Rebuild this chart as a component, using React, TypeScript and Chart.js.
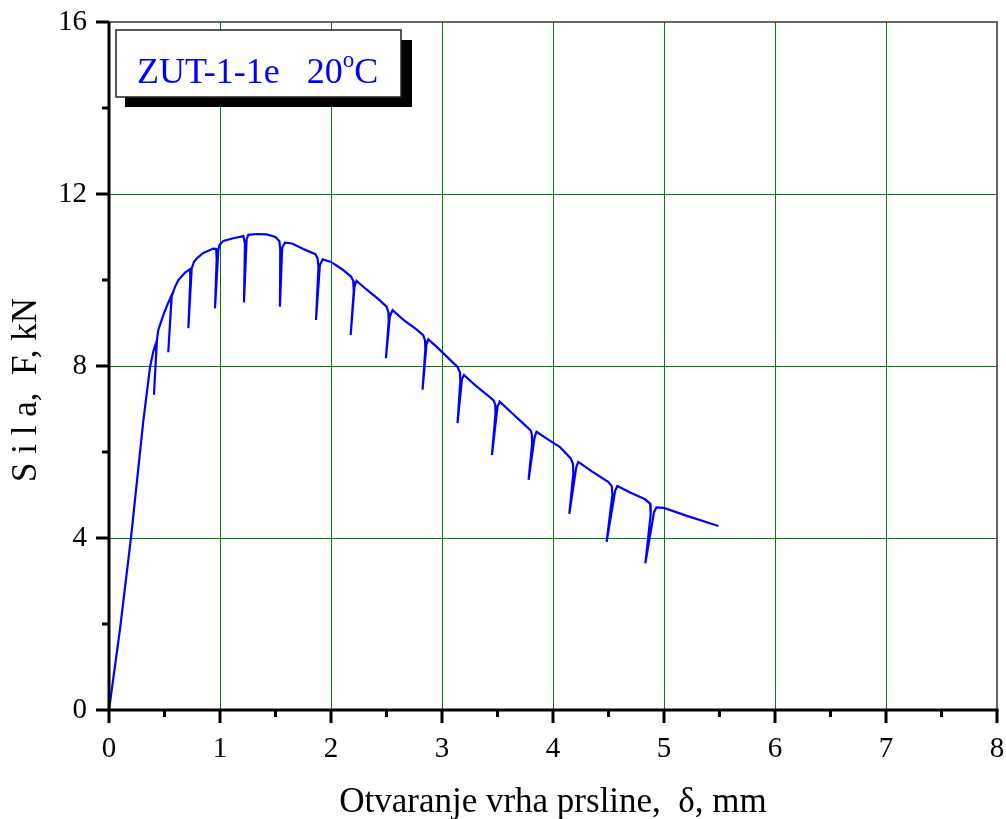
import React, { useEffect, useRef } from "react";
import { Chart, registerables } from "chart.js";

Chart.register(...registerables);

// Crack tip opening displacement, mm
const deltaMm: number[] = [
  0, 0.1, 0.2, 0.31, 0.37, 0.4, 0.423,
  0.425, 0.405, 0.432, 0.444, 0.49, 0.53, 0.556,
  0.56, 0.534, 0.565, 0.595, 0.625, 0.685, 0.73,
  0.733, 0.715, 0.745, 0.765, 0.79, 0.85, 0.94, 0.965,
  0.97, 0.955, 0.985, 0.994, 1.03, 1.12, 1.21,
  1.225, 1.216, 1.24, 1.255, 1.33, 1.42, 1.5, 1.535,
  1.543, 1.54, 1.56, 1.585, 1.65, 1.75, 1.86, 1.88,
  1.887, 1.865, 1.9, 1.925, 2.0, 2.1, 2.18, 2.2,
  2.205, 2.177, 2.212, 2.23, 2.32, 2.43, 2.5, 2.517,
  2.52, 2.495, 2.53, 2.555, 2.65, 2.77, 2.83, 2.847,
  2.85, 2.825, 2.86, 2.877, 2.95, 3.05, 3.14, 3.162,
  3.165, 3.14, 3.18, 3.198, 3.3, 3.42, 3.465, 3.48,
  3.482, 3.45, 3.5, 3.52, 3.62, 3.75, 3.8, 3.81,
  3.812, 3.78, 3.835, 3.852, 3.95, 4.06, 4.16, 4.18,
  4.183, 4.147, 4.21, 4.228, 4.35, 4.5, 4.53,
  4.535, 4.483, 4.56, 4.58, 4.7, 4.83, 4.875,
  4.88, 4.832, 4.91, 4.933, 5.0, 5.2, 5.49,
];

// Force, kN
const forceKN: number[] = [
  0, 1.9, 4.05, 6.74, 7.98, 8.35, 8.53,
  8.3, 7.33, 8.6, 8.84, 9.19, 9.45, 9.6,
  9.45, 8.32, 9.62, 9.84, 10.0, 10.17, 10.25,
  10.05, 8.88, 10.27, 10.42, 10.5, 10.63, 10.73, 10.72,
  10.5, 9.34, 10.7, 10.81, 10.91, 10.97, 11.02,
  10.85, 9.48, 10.95, 11.05, 11.07, 11.06, 11.0, 10.9,
  10.7, 9.38, 10.75, 10.87, 10.85, 10.72, 10.6, 10.5,
  10.3, 9.07, 10.35, 10.48, 10.42, 10.25, 10.08, 9.98,
  9.75, 8.72, 9.85, 9.98, 9.78, 9.55, 9.38, 9.25,
  9.05, 8.18, 9.15, 9.3, 9.08, 8.85, 8.72, 8.6,
  8.4, 7.45, 8.5, 8.62, 8.45, 8.2, 7.98, 7.85,
  7.65, 6.67, 7.7, 7.79, 7.55, 7.3, 7.2, 7.1,
  6.9, 5.93, 7.05, 7.17, 6.93, 6.62, 6.5, 6.4,
  6.2, 5.35, 6.35, 6.47, 6.3, 6.12, 5.85, 5.72,
  5.5, 4.56, 5.65, 5.77, 5.55, 5.3, 5.2,
  5.0, 3.91, 5.1, 5.21, 5.05, 4.9, 4.8,
  4.55, 3.41, 4.6, 4.71, 4.7, 4.52, 4.28,
];

const xMin = 0;
const xMax = 8;
const xMajorStep = 1;
const xMinorStep = 0.5;
const yMin = 0;
const yMax = 16;
const yMajorStep = 4;
const yMinorStep = 2;

const xTitle = "Otvaranje vrha prsline,  δ, mm";
const yTitle = "S i l a,  F, kN";
const boxMain = "ZUT-1-1e   20";
const boxSup = "o";
const boxTail = "C";

const SERIF = "'Liberation Serif', 'Times New Roman', serif";
const GRID_GREEN = "#008000";
const LINE_BLUE = "#0000ff";

const isMultiple = (v: number, step: number) =>
  Math.abs(v / step - Math.round(v / step)) < 1e-6;

const zeroPadding = (s: any) => {
  s.paddingLeft = 0;
  s.paddingRight = 0;
  s.paddingTop = 0;
  s.paddingBottom = 0;
};

const framePlugin = {
  id: "frame",
  afterDraw(chart: any) {
    const { ctx, chartArea: a, scales } = chart;
    const xs = scales.x;
    const ys = scales.y;
    ctx.save();

    // top & right thin border
    ctx.strokeStyle = "#333333";
    ctx.lineWidth = 1.5;
    ctx.beginPath();
    ctx.moveTo(a.left, a.top);
    ctx.lineTo(a.right, a.top);
    ctx.lineTo(a.right, a.bottom);
    ctx.stroke();

    // main axes
    ctx.strokeStyle = "#000000";
    ctx.lineWidth = 3;
    ctx.beginPath();
    ctx.moveTo(a.left, a.top);
    ctx.lineTo(a.left, a.bottom + 1.5);
    ctx.moveTo(a.left - 1.5, a.bottom);
    ctx.lineTo(a.right + 1.5, a.bottom);
    ctx.stroke();

    // ticks
    ctx.lineWidth = 3;
    ctx.beginPath();
    for (let v = xMin; v <= xMax + 1e-9; v += xMinorStep) {
      const px = xs.getPixelForValue(v);
      const len = isMultiple(v, xMajorStep) ? 13 : 7;
      ctx.moveTo(px, a.bottom);
      ctx.lineTo(px, a.bottom + len);
    }
    for (let v = yMin; v <= yMax + 1e-9; v += yMinorStep) {
      const py = ys.getPixelForValue(v);
      const len = isMultiple(v, yMajorStep) ? 13 : 7;
      ctx.moveTo(a.left, py);
      ctx.lineTo(a.left - len, py);
    }
    ctx.stroke();

    // y axis title
    ctx.save();
    ctx.translate(27, (a.top + a.bottom) / 2 + 24);
    ctx.rotate(-Math.PI / 2);
    ctx.fillStyle = "#000000";
    ctx.font = `35px ${SERIF}`;
    ctx.textAlign = "center";
    ctx.textBaseline = "middle";
    ctx.fillText(yTitle, 0, 0);
    ctx.restore();

    // label box with shadow
    const bx = a.left + 7;
    const by = a.top + 8;
    const bw = 285;
    const bh = 67;
    ctx.fillStyle = "#000000";
    ctx.fillRect(bx + 9, by + 10, bw + 2, bh);
    ctx.fillStyle = "#ffffff";
    ctx.fillRect(bx, by, bw, bh);
    ctx.strokeStyle = "#222222";
    ctx.lineWidth = 1.5;
    ctx.strokeRect(bx, by, bw, bh);

    ctx.fillStyle = LINE_BLUE;
    ctx.textBaseline = "alphabetic";
    ctx.textAlign = "left";
    ctx.font = `36px ${SERIF}`;
    let tx = bx + 21;
    const ty = by + 53;
    ctx.fillText(boxMain, tx, ty);
    tx += ctx.measureText(boxMain).width;
    ctx.font = `23px ${SERIF}`;
    ctx.fillText(boxSup, tx, ty - 16);
    tx += ctx.measureText(boxSup).width;
    ctx.font = `36px ${SERIF}`;
    ctx.fillText(boxTail, tx, ty);

    ctx.restore();
  },
};

export default function App() {
  const canvasRef = useRef<HTMLCanvasElement | null>(null);

  useEffect(() => {
    const canvas = canvasRef.current;
    if (!canvas) return;
    const points = deltaMm.map((d, i) => ({ x: d, y: forceKN[i] }));

    const chart = new Chart(canvas, {
      type: "line",
      data: {
        datasets: [
          {
            data: points,
            borderColor: LINE_BLUE,
            borderWidth: 2.2,
            pointRadius: 0,
            tension: 0,
            fill: false,
          },
        ],
      },
      options: {
        animation: false,
        responsive: false,
        maintainAspectRatio: false,
        layout: { padding: { left: 0, right: 9, top: 22, bottom: 0 } },
        plugins: {
          legend: { display: false },
          tooltip: { enabled: false },
        },
        scales: {
          x: {
            type: "linear",
            min: xMin,
            max: xMax,
            afterFit: (s: any) => {
              s.height = 109;
              zeroPadding(s);
            },
            ticks: {
              stepSize: xMinorStep,
              autoSkip: false,
              maxRotation: 0,
              padding: 22,
              color: "#000000",
              font: { family: SERIF, size: 29 },
              callback: (v: any) =>
                isMultiple(Number(v), xMajorStep) ? String(v) : "",
            },
            grid: {
              drawTicks: false,
              lineWidth: 1,
              color: (c: any) => {
                const v = c.tick ? c.tick.value : NaN;
                return isMultiple(v, xMajorStep) && v > xMin && v < xMax
                  ? GRID_GREEN
                  : "rgba(0,0,0,0)";
              },
            },
            border: { display: false },
            title: {
              display: true,
              text: xTitle,
              color: "#000000",
              font: { family: SERIF, size: 35 },
              padding: { top: 0, bottom: -5 },
            },
          },
          y: {
            type: "linear",
            min: yMin,
            max: yMax,
            afterFit: (s: any) => {
              s.width = 109;
              zeroPadding(s);
            },
            ticks: {
              stepSize: yMinorStep,
              autoSkip: false,
              padding: 22,
              color: "#000000",
              font: { family: SERIF, size: 29 },
              callback: (v: any) =>
                isMultiple(Number(v), yMajorStep) ? String(v) : "",
            },
            grid: {
              drawTicks: false,
              lineWidth: 1,
              color: (c: any) => {
                const v = c.tick ? c.tick.value : NaN;
                return isMultiple(v, yMajorStep) && v > yMin && v < yMax
                  ? GRID_GREEN
                  : "rgba(0,0,0,0)";
              },
            },
            border: { display: false },
            title: { display: false },
          },
        },
      },
      plugins: [framePlugin],
    });

    return () => chart.destroy();
  }, []);

  return (
    <div
      style={{
        position: "fixed",
        left: 0,
        top: 0,
        width: 1006,
        height: 819,
        background: "#ffffff",
      }}
    >
      <canvas
        ref={canvasRef}
        width={1006}
        height={819}
        style={{ display: "block", width: 1006, height: 819 }}
      />
    </div>
  );
}
